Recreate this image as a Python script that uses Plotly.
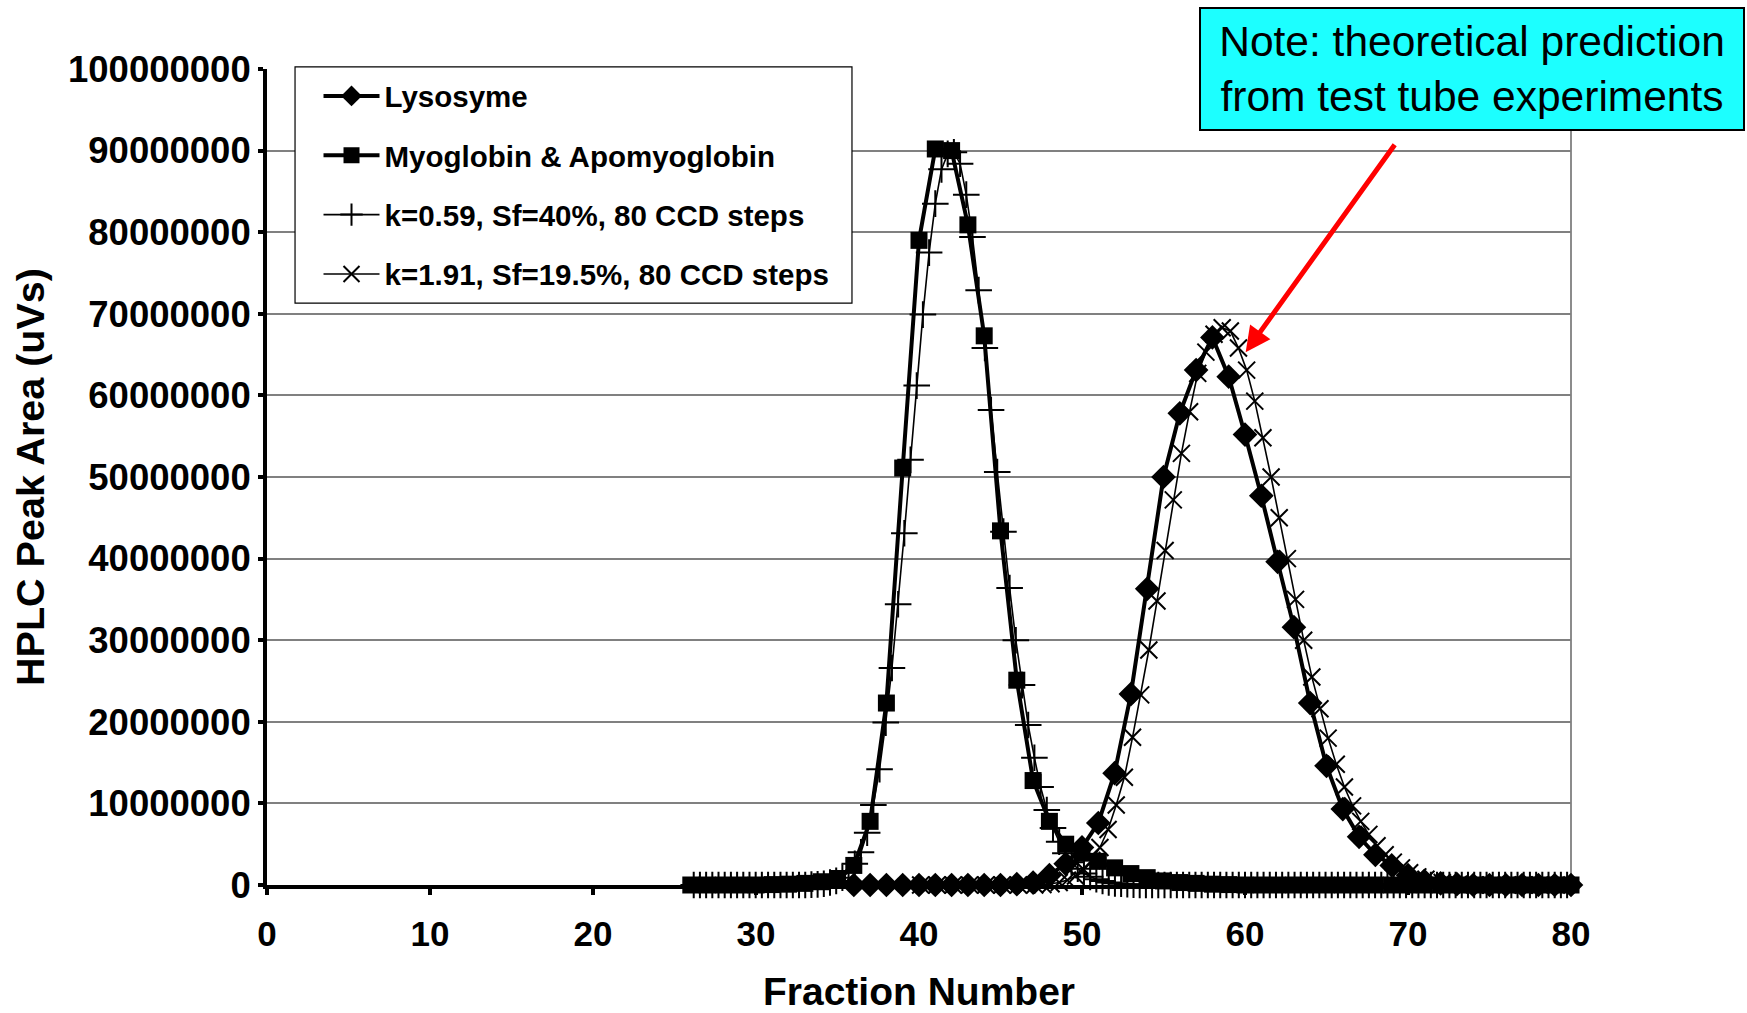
import plotly.graph_objects as go

# ---------------- data (peak areas in millions of uVs) ----------------
sq_fraction = list(range(26, 81))
myoglobin = [0, 0, 0, 0, 0, 0.05, 0.1, 0.2, 0.4, 0.8,
             2.4, 7.8, 22.3, 51.1, 79.0, 90.2, 90.0, 80.9, 67.3, 43.4,
             25.1, 12.8, 7.8, 5.0, 3.9, 2.9, 2.1, 1.4, 0.9, 0.5,
             0.3, 0.2, 0.1, 0.05,
             0, 0, 0, 0, 0, 0, 0, 0, 0, 0, 0, 0, 0, 0, 0, 0, 0, 0, 0, 0, 0]

dia_fraction = list(range(36, 81))
lysozyme = [0, 0, 0, 0, 0, 0, 0, 0, 0, 0,
            0.1, 0.3, 1.2, 2.6, 4.6, 7.6, 13.7, 23.4, 36.3, 50.0,
            57.8, 63.1, 67.1, 62.3, 55.2, 47.7, 39.6, 31.6, 22.3, 14.6,
            9.3, 5.9, 3.7, 2.4, 1.2, 0.5, 0.2, 0.1,
            0, 0, 0, 0, 0, 0, 0]

# theoretical curve k=0.59 (grid starts 26.18, step 0.38)
plus_start, plus_step = 26.18, 0.38
theory_k059 = [0] * 19 + [
    0.04, 0.08, 0.15, 0.3, 0.5, 0.9, 1.6, 2.6, 4.0, 6.4,
    9.8, 14.2, 19.9, 26.6, 34.4, 43.1, 52.1, 61.2, 69.9, 77.5,
    83.5, 87.7, 89.6, 89.8, 88.4, 84.6, 79.4, 72.9, 65.8, 58.2,
    50.6, 43.3, 36.4, 30.0, 24.5, 19.6, 15.6, 12.0, 9.2, 7.0,
    5.3, 3.9, 2.8, 2.0, 1.4, 1.0, 0.7, 0.5, 0.3, 0.2,
    0.15, 0.1, 0.05] + [0] * 70

# theoretical curve k=1.91 (grid starts 40.1, step 0.5)
x_start, x_step = 40.1, 0.5
theory_k191 = [0] * 15 + [
    0.05, 0.15, 0.3, 0.6, 1.1, 1.9, 3.0, 4.6, 6.8, 9.8,
    13.2, 18.1, 23.3, 28.8, 34.8, 41.0, 47.2, 52.9, 58.0, 62.7,
    65.3, 67.5, 68.3, 67.9, 65.8, 63.1, 59.3, 54.8, 50.0, 45.0,
    40.0, 35.0, 30.0, 25.5, 21.6, 18.0, 14.8, 12.0, 9.7, 7.8,
    6.2, 4.8, 3.7, 2.8, 2.1, 1.5, 1.0, 0.7, 0.45, 0.3,
    0.18, 0.1, 0.05] + [0] * 12

plus_fraction = [round(plus_start + plus_step * i, 2) for i in range(len(theory_k059))]
x_fraction = [round(x_start + x_step * i, 2) for i in range(len(theory_k191))]

y_ticks = [0, 10000000, 20000000, 30000000, 40000000, 50000000,
           60000000, 70000000, 80000000, 90000000, 100000000]
x_ticks = [0, 10, 20, 30, 40, 50, 60, 70, 80]

names = ["Lysosyme", "Myoglobin & Apomyoglobin",
         "k=0.59, Sf=40%, 80 CCD steps", "k=1.91, Sf=19.5%, 80 CCD steps"]

note_text = "Note: theoretical prediction<br>from test tube experiments"

M = 1e6
FONT = "Liberation Sans, Arial, sans-serif"

fig = go.Figure()
fig.add_trace(go.Scatter(
    x=dia_fraction, y=[v * M for v in lysozyme], name=names[0],
    mode="lines+markers", legendgroup="a",
    line=dict(color="black", width=4),
    marker=dict(symbol="diamond", size=19, color="black"),
    cliponaxis=False))
fig.add_trace(go.Scatter(
    x=sq_fraction, y=[v * M for v in myoglobin], name=names[1],
    mode="lines+markers", legendgroup="b",
    line=dict(color="black", width=4),
    marker=dict(symbol="square", size=17, color="black"),
    cliponaxis=False))
fig.add_trace(go.Scatter(
    x=plus_fraction, y=[v * M for v in theory_k059], name=names[2],
    mode="lines+markers", legendgroup="c",
    line=dict(color="black", width=1.6),
    marker=dict(symbol="cross-thin", size=19, color="black",
                line=dict(color="black", width=2)),
    cliponaxis=False))
fig.add_trace(go.Scatter(
    x=x_fraction, y=[v * M for v in theory_k191], name=names[3],
    mode="lines+markers", legendgroup="d",
    line=dict(color="black", width=1.6),
    marker=dict(symbol="x-thin", size=17, color="black",
                line=dict(color="black", width=2)),
    cliponaxis=False))

fig.update_layout(
    width=1747, height=1013,
    margin=dict(l=267, r=176, t=69, b=128, autoexpand=False),
    paper_bgcolor="white", plot_bgcolor="white",
    font=dict(family=FONT, color="black"),
    legend=dict(
        x=0.0395, y=0.9985, xanchor="left", yanchor="top",
        bgcolor="rgba(0,0,0,0)", borderwidth=0,
        font=dict(family=FONT, size=29.5, weight="bold", color="black"),
        tracegroupgap=18, itemwidth=56, itemsizing="trace",
    ),
    xaxis=dict(
        range=[0, 80], tickvals=x_ticks, showgrid=False, zeroline=False,
        showline=True, linecolor="black", linewidth=4, automargin=False,
        ticks="outside", ticklen=6, tickwidth=4, tickcolor="black",
        ticklabelstandoff=9,
        tickfont=dict(family=FONT, size=35, weight="bold", color="black"),
        title=dict(text="Fraction Number", standoff=37,
                   font=dict(family=FONT, size=39, weight="bold", color="black")),
    ),
    yaxis=dict(
        range=[0, 100000000], tickvals=y_ticks, tickformat="d",
        showgrid=True, gridcolor="#808080", gridwidth=1.5, zeroline=False,
        showline=True, linecolor="black", linewidth=4, automargin=False,
        ticks="outside", ticklen=5, tickwidth=4, tickcolor="black",
        ticklabelstandoff=0,
        tickfont=dict(family=FONT, size=36.5, weight="bold", color="black"),
        title=dict(text="HPLC Peak Area (uVs)", standoff=12,
                   font=dict(family=FONT, size=39.5, weight="bold", color="black")),
    ),
    shapes=[
        dict(type="line", xref="x domain", yref="y domain",
             x0=1, x1=1, y0=0, y1=1, line=dict(color="#8c8c8c", width=2),
             layer="below"),
        # legend frame
        dict(type="rect", xref="paper", yref="paper",
             x0=0.0215, x1=0.4486, y0=0.7132, y1=1.0025,
             fillcolor="white", line=dict(color="black", width=1.2),
             layer="above"),
    ],
)

# note box
fig.add_annotation(
    xref="paper", yref="paper", x=0.924, y=1.0, xanchor="center", yanchor="middle",
    text=note_text, showarrow=False, align="center",
    font=dict(family=FONT, size=42.5, color="black"),
    bgcolor="#1CFFFF", bordercolor="black", borderwidth=2, borderpad=10,
    width=522, height=100,
)
# red arrow
fig.add_annotation(
    xref="x", yref="y", axref="x", ayref="y",
    x=60.04, y=65.3 * M, ax=69.25, ay=90.9 * M,
    text="", showarrow=True, arrowhead=2, arrowsize=1.0, arrowwidth=5,
    arrowcolor="#FF0000",
)

fig.write_html("out.html")
